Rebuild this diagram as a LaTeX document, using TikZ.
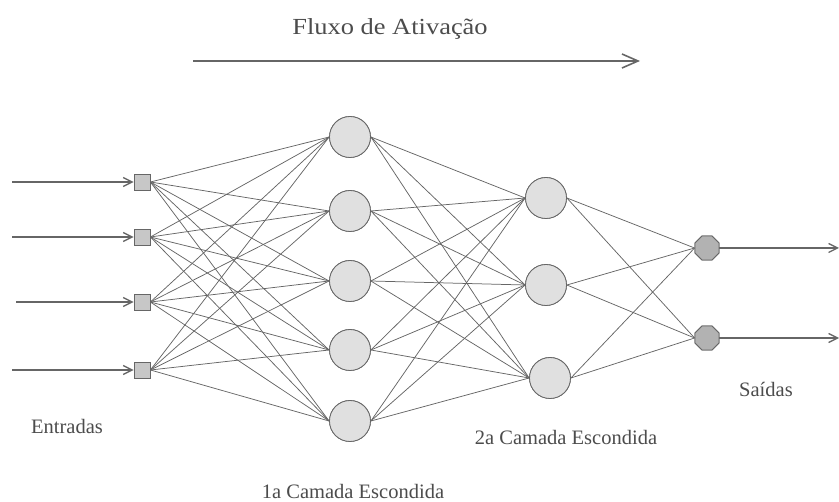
\documentclass[tikz,border=0pt]{standalone}
\usepackage{fontspec}
\setmainfont{Liberation Serif}
\usetikzlibrary{shapes.geometric,arrows.meta}
\definecolor{edge}{HTML}{666666}
\tikzset{
  x=1pt, y=-1pt,
  link/.style={draw=edge, line width=0.75pt},
  feed/.style={draw=edge, line width=1.1pt, -{Straight Barb[length=9pt,width=9pt,line width=1.3pt]}},
  inbox/.style={draw=edge, fill=black!22, line width=0.8pt, minimum size=16pt, inner sep=0pt},
  hid/.style={circle, draw=edge, fill=black!12, line width=0.8pt, minimum size=41pt, inner sep=0pt},
  outnode/.style={regular polygon, regular polygon sides=8, draw=edge, fill=black!30, line width=0.8pt, minimum size=26pt, inner sep=0pt},
  lab/.style={text=black!70, font=\fontsize{20.5}{24}\selectfont, inner sep=0pt}
}
\begin{document}
\begin{tikzpicture}
\useasboundingbox (0,0) rectangle (839,502);
% title and flow arrow
\node[text=black!70, font=\fontsize{23}{26}\selectfont, inner sep=0pt] (title) at (390,29) {\scalebox{1.15}[1]{Fluxo de Ativação}};
\coordinate (fa) at (193,61);
\coordinate (fb) at (640,61);
\draw[feed, line width=1.6pt, -{Straight Barb[length=16pt,width=14pt,line width=1.6pt]}] (fa) -- (fb);
% inputs
\foreach \i/\y in {1/182,2/237,3/302,4/370} {
  \node[inbox] (i\i) at (142,\y) {};
}
\coordinate (s1) at (12,182);
\coordinate (s2) at (12,237);
\coordinate (s3) at (16,302);
\coordinate (s4) at (12,370);
% hidden 1
\foreach \j/\y in {1/137,2/211,3/281,4/350,5/421} {
  \node[hid] (h\j) at (350,\y) {};
}
% hidden 2
\node[hid] (g1) at (546,198) {};
\node[hid] (g2) at (546,285) {};
\node[hid] (g3) at (550,378) {};
% outputs
\node[outnode] (o1) at (707,248) {};
\node[outnode] (o2) at (707,338) {};
\coordinate (e1) at (839,248);
\coordinate (e2) at (839,338);
% connections
\foreach \i in {1,...,4} \foreach \j in {1,...,5} \draw[link] (i\i.east) -- (h\j.west);
\foreach \j in {1,...,5} \foreach \k in {1,2,3} \draw[link] (h\j.east) -- (g\k.west);
\foreach \k in {1,2,3} \foreach \m in {1,2} \draw[link] (g\k.east) -- (o\m.west);
% redraw nodes above lines
\foreach \i/\y in {1/182,2/237,3/302,4/370} \node[inbox] at (142,\y) {};
\foreach \j/\y in {1/137,2/211,3/281,4/350,5/421} \node[hid] at (350,\y) {};
\node[hid] at (546,198) {};
\node[hid] at (546,285) {};
\node[hid] at (550,378) {};
\node[outnode] at (707,248) {};
\node[outnode] at (707,338) {};
% input/output arrows
\foreach \i in {1,...,4} \draw[feed] (s\i) -- (i\i.west);
\foreach \m in {1,2} \draw[feed] (o\m.east) -- (e\m);
% labels
\node[lab] (l1) at (67,426) {Entradas};
\node[lab] (l2) at (566,437) {2a Camada Escondida};
\node[lab] (l3) at (353,491) {1a Camada Escondida};
\node[lab] (l4) at (766,389) {Saídas};
\end{tikzpicture}
\end{document}
